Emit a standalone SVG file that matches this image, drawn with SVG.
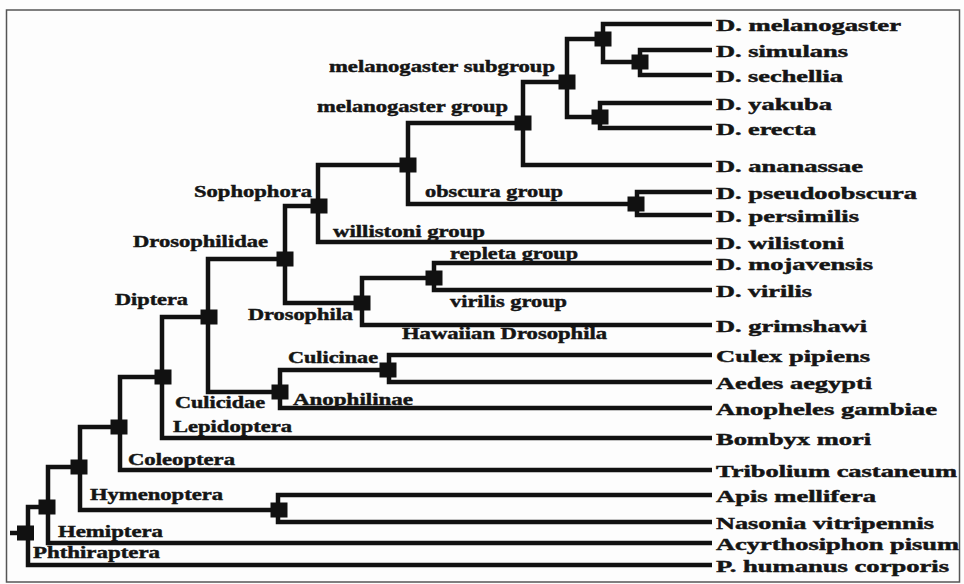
<svg xmlns="http://www.w3.org/2000/svg" width="964" height="584" viewBox="0 0 964 584">
<style>
.e{fill:none;stroke:#111;stroke-width:4.5;stroke-linejoin:miter}
.m{fill:#111}
.t{font-family:"Liberation Serif","Times New Roman",serif;font-weight:bold;font-size:17px;fill:#151515;stroke:#151515;stroke-width:0.45}
</style>
<rect x="0" y="0" width="964" height="584" fill="#fdfdfd"/>
<rect x="6.5" y="10" width="953" height="572" fill="none" stroke="#555" stroke-width="1.5"/>
<g id="connectors">
<path class="e" d="M603,39V24H712"/>
<path class="e" d="M603,39V62H640"/>
<path class="e" d="M640,62V50H712"/>
<path class="e" d="M640,62V75H712"/>
<path class="e" d="M600,117V103H712"/>
<path class="e" d="M600,117V128H712"/>
<path class="e" d="M567,82V39H603"/>
<path class="e" d="M567,82V117H600"/>
<path class="e" d="M523,123V82H567"/>
<path class="e" d="M523,123V165H712"/>
<path class="e" d="M637,204V192H712"/>
<path class="e" d="M637,204V215H712"/>
<path class="e" d="M408,165V123H523"/>
<path class="e" d="M408,165V204H637"/>
<path class="e" d="M318,206V165H408"/>
<path class="e" d="M318,206V242H712"/>
<path class="e" d="M434,278V263H712"/>
<path class="e" d="M434,278V290H712"/>
<path class="e" d="M362,303V278H434"/>
<path class="e" d="M362,303V325H712"/>
<path class="e" d="M285,259V206H318"/>
<path class="e" d="M285,259V303H362"/>
<path class="e" d="M389,370V355H712"/>
<path class="e" d="M389,370V382H712"/>
<path class="e" d="M280,392V370H389"/>
<path class="e" d="M280,392V408H712"/>
<path class="e" d="M208,317V259H285"/>
<path class="e" d="M208,317V392H280"/>
<path class="e" d="M162,377V317H208"/>
<path class="e" d="M162,377V438H712"/>
<path class="e" d="M120,427V377H162"/>
<path class="e" d="M120,427V470H712"/>
<path class="e" d="M278,510V495H712"/>
<path class="e" d="M278,510V522H712"/>
<path class="e" d="M80,467V427H120"/>
<path class="e" d="M80,467V510H278"/>
<path class="e" d="M48,507V467H80"/>
<path class="e" d="M48,507V543H712"/>
<path class="e" d="M28,533V507H48"/>
<path class="e" d="M28,533V565H712"/>
<path class="e" d="M10,533H28"/>
</g>
<g id="n_melsub2"><rect class="m" x="594.5" y="31.5" width="17" height="15"/></g>
<g id="n_simsech"><rect class="m" x="631.5" y="54.5" width="17" height="15"/></g>
<g id="n_yakere"><rect class="m" x="591.5" y="109.5" width="17" height="15"/></g>
<g id="n_melsub"><rect class="m" x="558.5" y="74.5" width="17" height="15"/><text class="t" x="329" y="72" textLength="226" lengthAdjust="spacingAndGlyphs">melanogaster subgroup</text></g>
<g id="n_melgroup"><rect class="m" x="514.5" y="115.5" width="17" height="15"/><text class="t" x="317" y="112" textLength="191" lengthAdjust="spacingAndGlyphs">melanogaster group</text></g>
<g id="n_obscura"><rect class="m" x="627.5" y="196.5" width="17" height="15"/><text class="t" x="425" y="197" textLength="138" lengthAdjust="spacingAndGlyphs">obscura group</text></g>
<g id="n_sophophora_inner"><rect class="m" x="399.5" y="157.5" width="17" height="15"/><text class="t" x="194" y="197" textLength="118" lengthAdjust="spacingAndGlyphs">Sophophora</text></g>
<g id="n_sophophora"><rect class="m" x="310.5" y="198.5" width="17" height="15"/><text class="t" x="333" y="237" textLength="152" lengthAdjust="spacingAndGlyphs">willistoni group</text></g>
<g id="n_repleta"><rect class="m" x="425.5" y="270.5" width="17" height="15"/><text class="t" x="450" y="259" textLength="128" lengthAdjust="spacingAndGlyphs">repleta group</text><text class="t" x="450" y="307" textLength="117" lengthAdjust="spacingAndGlyphs">virilis group</text></g>
<g id="n_drosophila"><rect class="m" x="353.5" y="295.5" width="17" height="15"/><text class="t" x="248" y="320" textLength="105" lengthAdjust="spacingAndGlyphs">Drosophila</text><text class="t" x="402" y="339" textLength="205" lengthAdjust="spacingAndGlyphs">Hawaiian Drosophila</text></g>
<g id="n_drosophilidae"><rect class="m" x="276.5" y="251.5" width="17" height="15"/><text class="t" x="133" y="247" textLength="135" lengthAdjust="spacingAndGlyphs">Drosophilidae</text></g>
<g id="n_culicinae"><rect class="m" x="379.5" y="362.5" width="17" height="15"/><text class="t" x="288" y="363" textLength="90" lengthAdjust="spacingAndGlyphs">Culicinae</text></g>
<g id="n_culicidae"><rect class="m" x="271.5" y="384.5" width="17" height="15"/><text class="t" x="175" y="408" textLength="90" lengthAdjust="spacingAndGlyphs">Culicidae</text><text class="t" x="293" y="405" textLength="120" lengthAdjust="spacingAndGlyphs">Anophilinae</text></g>
<g id="n_diptera"><rect class="m" x="200.5" y="309.5" width="17" height="15"/><text class="t" x="115" y="305" textLength="73" lengthAdjust="spacingAndGlyphs">Diptera</text></g>
<g id="n_lepidoptera"><rect class="m" x="154.5" y="369.5" width="17" height="15"/><text class="t" x="173" y="432" textLength="119" lengthAdjust="spacingAndGlyphs">Lepidoptera</text></g>
<g id="n_coleoptera"><rect class="m" x="110.5" y="419.5" width="17" height="15"/><text class="t" x="128" y="465" textLength="107" lengthAdjust="spacingAndGlyphs">Coleoptera</text></g>
<g id="n_apis_nasonia"><rect class="m" x="270.5" y="502.5" width="17" height="15"/></g>
<g id="n_hymenoptera"><rect class="m" x="70.5" y="459.5" width="17" height="15"/><text class="t" x="90" y="500" textLength="133" lengthAdjust="spacingAndGlyphs">Hymenoptera</text></g>
<g id="n_hemiptera"><rect class="m" x="38.5" y="499.5" width="17" height="15"/><text class="t" x="58" y="537" textLength="105" lengthAdjust="spacingAndGlyphs">Hemiptera</text></g>
<g id="n_root"><rect class="m" x="17" y="525.5" width="17" height="15"/><text class="t" x="33" y="558" textLength="127" lengthAdjust="spacingAndGlyphs">Phthiraptera</text></g>
<g id="leaf_mel"><text class="t" x="716" y="31" textLength="185" lengthAdjust="spacingAndGlyphs">D. melanogaster</text></g>
<g id="leaf_sim"><text class="t" x="716" y="57" textLength="132" lengthAdjust="spacingAndGlyphs">D. simulans</text></g>
<g id="leaf_sech"><text class="t" x="716" y="82" textLength="127" lengthAdjust="spacingAndGlyphs">D. sechellia</text></g>
<g id="leaf_yak"><text class="t" x="716" y="110" textLength="116" lengthAdjust="spacingAndGlyphs">D. yakuba</text></g>
<g id="leaf_ere"><text class="t" x="716" y="135" textLength="100" lengthAdjust="spacingAndGlyphs">D. erecta</text></g>
<g id="leaf_ana"><text class="t" x="716" y="172" textLength="147" lengthAdjust="spacingAndGlyphs">D. ananassae</text></g>
<g id="leaf_pse"><text class="t" x="716" y="199" textLength="201" lengthAdjust="spacingAndGlyphs">D. pseudoobscura</text></g>
<g id="leaf_per"><text class="t" x="716" y="222" textLength="143" lengthAdjust="spacingAndGlyphs">D. persimilis</text></g>
<g id="leaf_wil"><text class="t" x="716" y="249" textLength="128" lengthAdjust="spacingAndGlyphs">D. wilistoni</text></g>
<g id="leaf_moj"><text class="t" x="716" y="270" textLength="157" lengthAdjust="spacingAndGlyphs">D. mojavensis</text></g>
<g id="leaf_vir"><text class="t" x="716" y="297" textLength="96" lengthAdjust="spacingAndGlyphs">D. virilis</text></g>
<g id="leaf_gri"><text class="t" x="716" y="332" textLength="151" lengthAdjust="spacingAndGlyphs">D. grimshawi</text></g>
<g id="leaf_cul"><text class="t" x="716" y="362" textLength="154" lengthAdjust="spacingAndGlyphs">Culex pipiens</text></g>
<g id="leaf_aed"><text class="t" x="716" y="389" textLength="156" lengthAdjust="spacingAndGlyphs">Aedes aegypti</text></g>
<g id="leaf_ano"><text class="t" x="716" y="415" textLength="221" lengthAdjust="spacingAndGlyphs">Anopheles gambiae</text></g>
<g id="leaf_bom"><text class="t" x="716" y="445" textLength="155" lengthAdjust="spacingAndGlyphs">Bombyx mori</text></g>
<g id="leaf_tri"><text class="t" x="716" y="477" textLength="241" lengthAdjust="spacingAndGlyphs">Tribolium castaneum</text></g>
<g id="leaf_api"><text class="t" x="716" y="502" textLength="160" lengthAdjust="spacingAndGlyphs">Apis mellifera</text></g>
<g id="leaf_nas"><text class="t" x="716" y="529" textLength="218" lengthAdjust="spacingAndGlyphs">Nasonia vitripennis</text></g>
<g id="leaf_acy"><text class="t" x="716" y="550" textLength="243" lengthAdjust="spacingAndGlyphs">Acyrthosiphon pisum</text></g>
<g id="leaf_phu"><text class="t" x="716" y="572" textLength="233" lengthAdjust="spacingAndGlyphs">P. humanus corporis</text></g>
</svg>
